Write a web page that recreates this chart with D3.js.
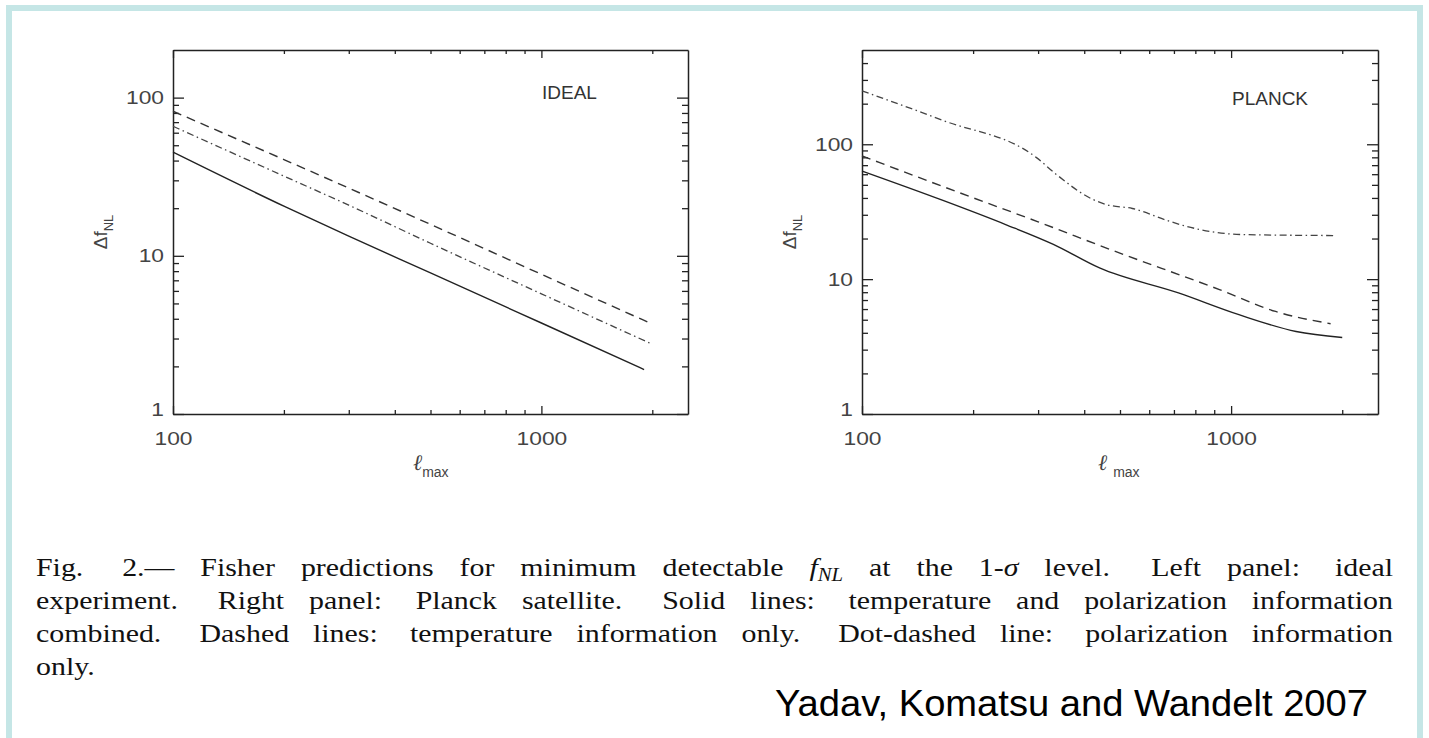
<!DOCTYPE html>
<html>
<head>
<meta charset="utf-8">
<script src="https://cdn.jsdelivr.net/npm/d3@7"></script>
<style>
  body { margin: 0; background: #fff; }
  svg { display: block; }
</style>
</head>
<body>
<script>

var width = 1429, height = 738;

// multipole ticks, shared by both panels
var ellTicks = [100, 200, 300, 400, 500, 600, 700, 800, 900, 1000, 2000];
var ellMajor = [100, 1000];

// left panel (ideal experiment)
var idealSolidEll = [100, 200, 300, 500, 1000, 1900];
var idealSolidVal = [45.2, 20.6, 13.3, 7.8, 3.76, 1.91];
var idealDashEll = [100, 200, 300, 500, 1000, 2000];
var idealDashVal = [82, 40.6, 26.8, 15.8, 7.64, 3.70];
var idealDotDashEll = [100, 200, 300, 500, 1000, 2000];
var idealDotDashVal = [65.9, 31.9, 20.9, 12.0, 5.75, 2.76];

// right panel (planck)
var planckSolidEll = [100, 165, 245, 330, 440, 720, 1050, 1500, 2000];
var planckSolidVal = [63.3, 38.5, 25.4, 18.1, 12.1, 7.9, 5.45, 4.09, 3.69];
var planckDashEll = [100, 200, 300, 470, 930, 1320, 1860];
var planckDashVal = [81.9, 40.1, 26.6, 16.6, 8.36, 5.76, 4.67];
var planckDotDashEll = [100, 166, 297, 336, 422, 458, 540, 680, 754, 1073, 1900];
var planckDotDashVal = [249, 150, 79.6, 59.8, 39.0, 35.8, 33.4, 26.9, 24.7, 21.4, 21.05];

var idealYTicks = [1, 2, 3, 4, 5, 6, 7, 8, 9, 10, 20, 30, 40, 50, 60, 70, 80, 90, 100];
var planckYTicks = [1, 2, 3, 4, 5, 6, 7, 8, 9, 10, 20, 30, 40, 50, 60, 70, 80, 90, 100, 200, 300, 400];
var yMajor = [1, 10, 100];

var captionLines = [
  ["Fig.", "2.\u2014", "Fisher", "predictions", "for", "minimum", "detectable", "f_NL", "at", "the", "1-\u03c3", "level.", "Left", "panel:", "ideal"],
  ["experiment.", "Right", "panel:", "Planck", "satellite.", "Solid", "lines:", "temperature", "and", "polarization", "information"],
  ["combined.", "Dashed", "lines:", "temperature", "information", "only.", "Dot-dashed", "line:", "polarization", "information"],
  ["only."]
];
var credit = "Yadav, Komatsu and Wandelt 2007";

function zip(ls, vs) { return ls.map(function(l, i) { return {l: l, v: vs[i]}; }); }

var styles = {
  solid:   {color: "#222", width: 1.4, dash: null},
  dash:    {color: "#333", width: 1.4, dash: "9,6"},
  dotdash: {color: "#444", width: 1.3, dash: "7,3.5,1.5,3.5"}
};

var plotTop = 50, plotBottom = 414;
var panels = [
  {name: "IDEAL", x0: 173, x1: 688, yMax: 200, yTicks: idealYTicks, nameX: 542, nameY: 99, lmaxDx: -17.5, lmaxGap: 0,
   series: [["solid", zip(idealSolidEll, idealSolidVal)], ["dash", zip(idealDashEll, idealDashVal)], ["dotdash", zip(idealDotDashEll, idealDotDashVal)]]},
  {name: "PLANCK", x0: 862, x1: 1378, yMax: 500, yTicks: planckYTicks, nameX: 1232, nameY: 105, lmaxDx: -22, lmaxGap: 6,
   series: [["solid", zip(planckSolidEll, planckSolidVal)], ["dash", zip(planckDashEll, planckDashVal)], ["dotdash", zip(planckDotDashEll, planckDotDashVal)]]}
];

var svg = d3.select("body").append("svg")
  .attr("width", width)
  .attr("height", height);

svg.append("rect").attr("width", width).attr("height", height).attr("fill", "#fff");
// light cyan frame of the slide
svg.append("rect")
  .attr("x", 9).attr("y", 8).attr("width", 1411).attr("height", 800)
  .attr("fill", "none").attr("stroke", "#c5e6e6").attr("stroke-width", 6);

var sans = "'Liberation Sans', Arial, Helvetica, sans-serif";
var serif = "'Liberation Serif', 'Times New Roman', serif";

function styleAxis(a) {
  a.attr("font-family", sans).attr("font-size", 19);
  a.select(".domain").attr("stroke", "#222").attr("stroke-width", 1.5);
  a.selectAll(".tick line").attr("stroke", "#222").attr("stroke-width", 1.3);
  a.selectAll(".tick text").attr("fill", "#444");
}

panels.forEach(function(p) {
  var x = d3.scaleLog().domain([100, 2500]).range([p.x0, p.x1]);
  var y = d3.scaleLog().domain([1, p.yMax]).range([plotBottom, plotTop]);
  var g = svg.append("g");
  var isMx = function(d) { return ellMajor.indexOf(d) >= 0; };
  var isMy = function(d) { return yMajor.indexOf(d) >= 0; };

  var bx = g.append("g").attr("transform", "translate(0," + plotBottom + ")")
    .call(d3.axisBottom(x).tickValues(ellTicks).tickFormat(function(d) { return isMx(d) ? d : ""; })
      .tickSizeOuter(0).tickSizeInner(-8).tickPadding(18));
  bx.selectAll(".tick line").attr("y2", function(d) { return isMx(d) ? -8 : -4; });
  styleAxis(bx);
  bx.selectAll(".tick text").attr("transform", "scale(1.2,1)");

  var tx = g.append("g").attr("transform", "translate(0," + plotTop + ")")
    .call(d3.axisTop(x).tickValues(ellTicks).tickFormat("").tickSizeOuter(0));
  tx.selectAll(".tick line").attr("y2", function(d) { return isMx(d) ? 8 : 4; });
  styleAxis(tx);

  var ly = g.append("g").attr("transform", "translate(" + p.x0 + ",0)")
    .call(d3.axisLeft(y).tickValues(p.yTicks).tickFormat(function(d) { return isMy(d) ? d : ""; })
      .tickSizeOuter(0).tickSizeInner(-11).tickPadding(9));
  ly.selectAll(".tick line").attr("x2", function(d) { return isMy(d) ? 11 : 6; });
  styleAxis(ly);
  ly.selectAll(".tick text").attr("x", -9 / 1.2).attr("transform", "scale(1.2,1)")
    .attr("y", function(d) { return d === 1 ? -5 : 0; });

  var ry = g.append("g").attr("transform", "translate(" + p.x1 + ",0)")
    .call(d3.axisRight(y).tickValues(p.yTicks).tickFormat("").tickSizeOuter(0));
  ry.selectAll(".tick line").attr("x2", function(d) { return isMy(d) ? -11 : -6; });
  styleAxis(ry);

  var line = d3.line().curve(d3.curveMonotoneX)
    .x(function(d) { return x(d.l); }).y(function(d) { return y(d.v); });
  p.series.forEach(function(s) {
    var st = styles[s[0]];
    g.append("path").datum(s[1])
      .attr("d", line)
      .attr("fill", "none")
      .attr("stroke", st.color)
      .attr("stroke-width", st.width)
      .attr("stroke-dasharray", st.dash);
  });

  g.append("text").attr("x", p.nameX).attr("y", p.nameY)
    .attr("font-family", sans).attr("font-size", 19).attr("fill", "#333")
    .text(p.name);

  // y label: delta f_NL
  var yl = g.append("text")
    .attr("transform", "translate(" + (p.x0 - 73) + "," + ((plotTop + plotBottom) / 2) + ") rotate(-90)")
    .attr("text-anchor", "middle").attr("y", 7)
    .attr("font-family", sans).attr("font-size", 19).attr("fill", "#444");
  yl.append("tspan").text("\u0394f");
  yl.append("tspan").attr("font-size", 13).attr("dy", 6).text("NL");

  // x label: l_max
  var xl = g.append("text")
    .attr("x", (p.x0 + p.x1) / 2 + p.lmaxDx).attr("y", 470)
    .attr("fill", "#444");
  xl.append("tspan").attr("font-family", serif).attr("font-style", "italic").attr("font-size", 22).text("\u2113");
  xl.append("tspan").attr("font-family", sans).attr("font-size", 14).attr("dx", p.lmaxGap).attr("dy", 7).text("max");
});

// caption, justified like the printed paper (the slide stretches it sideways)
var capX = 36, capW = 1357, capY = 576, capStep = 33, capSx = 1.15;
var cap = svg.append("g").attr("font-family", serif).attr("font-size", 26).attr("fill", "#111");

function addWord(t, w) {
  if (w === "f_NL") {
    t.append("tspan").attr("font-style", "italic").text("f");
    t.append("tspan").attr("font-style", "italic").attr("font-size", 18).attr("dy", 5).text("NL");
  } else if (w.indexOf("\u03c3") >= 0) {
    t.append("tspan").text("1-");
    t.append("tspan").attr("font-style", "italic").text("\u03c3");
  } else {
    t.text(w);
  }
}

captionLines.forEach(function(words, i) {
  var yy = capY + i * capStep;
  var texts = words.map(function(w) {
    var t = cap.append("text");
    addWord(t, w);
    return t;
  });
  var widths = texts.map(function(t) { return t.node().getComputedTextLength() * capSx; });
  // wider glue after sentence ends and colons, as TeX sets it
  var weights = words.slice(0, -1).map(function(w) {
    return w === "Fig." ? 1.5 : (/\.$/.test(w) ? 1.6 : (/:$/.test(w) ? 1.35 : 1));
  });
  var last = i === captionLines.length - 1;
  var unit = last || !weights.length ? 8 : (capW - d3.sum(widths)) / d3.sum(weights);
  var xx = capX;
  texts.forEach(function(t, j) {
    t.attr("transform", "translate(" + xx + "," + yy + ") scale(" + capSx + ",1)");
    xx += widths[j] + (j < weights.length ? weights[j] * unit : 0);
  });
});

svg.append("text")
  .attr("x", 775).attr("y", 716)
  .attr("font-family", sans).attr("font-size", 36).attr("fill", "#000")
  .attr("textLength", 593).attr("lengthAdjust", "spacingAndGlyphs")
  .text(credit);

</script>
</body>
</html>
